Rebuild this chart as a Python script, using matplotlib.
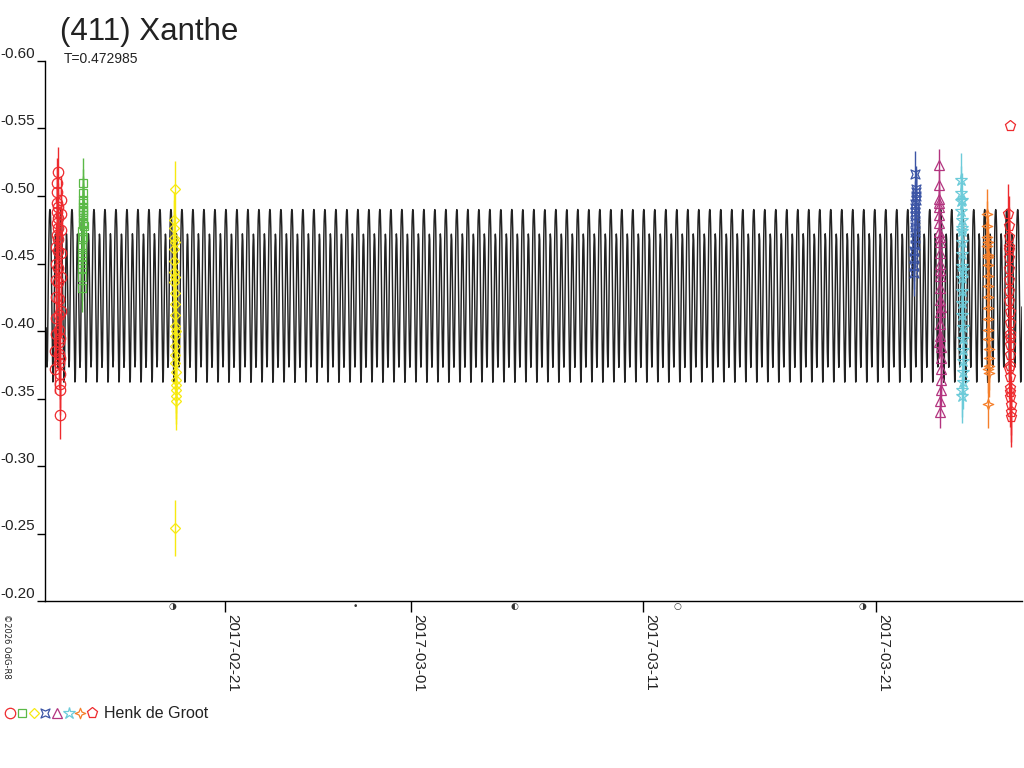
import matplotlib
matplotlib.use("Agg")
import matplotlib.pyplot as plt
import matplotlib.dates as mdates
from matplotlib.lines import Line2D
from matplotlib.path import Path
import numpy as np
import pandas as pd

plt.rcParams['font.family'] = ['Liberation Sans', 'DejaVu Sans']

# ---------------- data ----------------
TITLE = "(411) Xanthe"
SUBTITLE = "T=0.472985"
PERIOD = 0.472985
OBSERVER = "Henk de Groot"
COPYRIGHT = "\u00a92026 OdG-R8"

X_START = "2017-02-13 06:15"
X_END = "2017-03-27 06:45"
MODEL_EPOCH = "2017-02-13 00:00"

y_ticks = [-0.60, -0.55, -0.50, -0.45, -0.40, -0.35, -0.30, -0.25, -0.20]
x_tick_dates = ["2017-02-21", "2017-03-01", "2017-03-11", "2017-03-21"]

moon_dates = ["2017-02-18 18:00", "2017-02-26 15:00", "2017-03-05 11:00",
              "2017-03-12 11:30", "2017-03-20 10:30"]
moon_symbols = ["\u25d1", "\u2022", "\u25d0", "\u25cb", "\u25d1"]

# one rotation of the model lightcurve (phase, magnitude)
model_phase = [0.00, 0.04, 0.08, 0.12, 0.17, 0.22, 0.27, 0.31, 0.36, 0.41, 0.46, 0.50,
               0.54, 0.58, 0.63, 0.68, 0.73, 0.77, 0.82, 0.87, 0.92, 0.96, 1.00]
model_mag = [-0.490, -0.488, -0.478, -0.455, -0.420, -0.385, -0.362, -0.365, -0.395, -0.432,
             -0.462, -0.472, -0.468, -0.450, -0.418, -0.388, -0.373, -0.378, -0.410, -0.450,
             -0.478, -0.488, -0.490]

# session 1: red circles
s1_night = "2017-02-13"
s1_frac = [0.70, 0.71, 0.72, 0.72, 0.73, 0.74, 0.74, 0.75, 0.76, 0.76,
           0.77, 0.78, 0.78, 0.79, 0.80, 0.80, 0.81, 0.82, 0.82, 0.83,
           0.84, 0.84, 0.85, 0.86, 0.86, 0.87, 0.88, 0.88, 0.89, 0.90,
           0.90, 0.91, 0.92, 0.92, 0.93, 0.94, 0.94, 0.95, 0.96, 0.96]
s1_mag = [-0.372, -0.385, -0.398, -0.410, -0.425, -0.438, -0.450, -0.462, -0.471, -0.480,
          -0.488, -0.495, -0.503, -0.510, -0.518, -0.492, -0.484, -0.476, -0.468, -0.459,
          -0.447, -0.436, -0.424, -0.412, -0.401, -0.392, -0.383, -0.376, -0.368, -0.361,
          -0.356, -0.338, -0.380, -0.395, -0.415, -0.440, -0.458, -0.475, -0.487, -0.497]
s1_err = 0.018

# session 2: green squares
s2_night = "2017-02-14"
s2_frac = [0.84, 0.845, 0.85, 0.855, 0.86, 0.865, 0.87, 0.875, 0.88, 0.885, 0.89,
           0.895, 0.90, 0.905, 0.91, 0.915, 0.92, 0.86, 0.87, 0.88, 0.89, 0.90]
s2_mag = [-0.432, -0.440, -0.447, -0.455, -0.462, -0.468, -0.474, -0.479, -0.484, -0.488, -0.492,
          -0.497, -0.502, -0.510, -0.495, -0.486, -0.478, -0.450, -0.458, -0.470, -0.481, -0.490]
s2_err = 0.018

# session 3: yellow diamonds
s3_night = "2017-02-18"
s3_frac = [0.80, 0.805, 0.81, 0.815, 0.82, 0.825, 0.83, 0.835, 0.84, 0.845, 0.85, 0.855, 0.86,
           0.865, 0.87, 0.875, 0.88, 0.885, 0.89, 0.895, 0.90, 0.85, 0.86, 0.87, 0.88, 0.85]
s3_mag = [-0.482, -0.476, -0.469, -0.461, -0.452, -0.444, -0.436, -0.428, -0.420, -0.412, -0.404,
          -0.396, -0.389, -0.382, -0.376, -0.370, -0.364, -0.360, -0.356, -0.352, -0.348,
          -0.505, -0.466, -0.440, -0.400, -0.254]
s3_err = 0.021

# session 4: blue concave squares
s4_night = "2017-03-22"
s4_frac = [0.64, 0.645, 0.65, 0.655, 0.66, 0.665, 0.67, 0.675, 0.68, 0.685, 0.69,
           0.695, 0.70, 0.705, 0.71, 0.715, 0.72, 0.68]
s4_mag = [-0.443, -0.448, -0.454, -0.459, -0.464, -0.469, -0.473, -0.477, -0.481, -0.485, -0.488,
          -0.491, -0.494, -0.497, -0.500, -0.503, -0.505, -0.516]
s4_err = 0.017

# session 5: magenta triangles
s5_night = "2017-03-23"
s5_frac = [0.70, 0.705, 0.71, 0.715, 0.72, 0.725, 0.73, 0.735, 0.74, 0.745, 0.75, 0.755, 0.76, 0.765,
           0.77, 0.775, 0.78, 0.785, 0.79, 0.795, 0.80, 0.72, 0.74, 0.76, 0.78, 0.75, 0.77, 0.73]
s5_mag = [-0.523, -0.508, -0.498, -0.492, -0.486, -0.480, -0.473, -0.466, -0.458, -0.450, -0.441,
          -0.432, -0.423, -0.414, -0.405, -0.396, -0.388, -0.380, -0.372, -0.364, -0.356,
          -0.495, -0.470, -0.445, -0.418, -0.348, -0.340, -0.392]
s5_err = 0.012

# session 6: cyan stars
s6_night = "2017-03-24"
s6_frac = [0.66, 0.665, 0.67, 0.675, 0.68, 0.685, 0.69, 0.695, 0.70, 0.705, 0.71, 0.715,
           0.72, 0.725, 0.73, 0.735, 0.74, 0.745, 0.75, 0.69, 0.71, 0.73, 0.70, 0.72]
s6_mag = [-0.512, -0.502, -0.496, -0.489, -0.482, -0.474, -0.466, -0.457, -0.448, -0.439, -0.430,
          -0.421, -0.412, -0.403, -0.394, -0.386, -0.378, -0.370, -0.362, -0.497, -0.476, -0.445,
          -0.356, -0.352]
s6_err = 0.020

# session 7: orange four-point stars
s7_night = "2017-03-25"
s7_frac = [0.78, 0.785, 0.79, 0.795, 0.80, 0.805, 0.81, 0.815, 0.82, 0.825, 0.83,
           0.835, 0.84, 0.845, 0.85, 0.855, 0.86, 0.80, 0.82, 0.84, 0.83]
s7_mag = [-0.487, -0.478, -0.470, -0.463, -0.456, -0.449, -0.441, -0.433, -0.425, -0.417, -0.409,
          -0.401, -0.394, -0.387, -0.380, -0.374, -0.369, -0.466, -0.455, -0.372, -0.346]
s7_err = 0.018

# session 8: red pentagons
s8_night = "2017-03-26"
s8_frac = [0.70, 0.705, 0.71, 0.715, 0.72, 0.725, 0.73, 0.735, 0.74, 0.745, 0.75, 0.755, 0.76,
           0.765, 0.77, 0.775, 0.78, 0.785, 0.79, 0.795, 0.80, 0.76, 0.74, 0.72, 0.78, 0.75]
s8_mag = [-0.487, -0.478, -0.470, -0.462, -0.454, -0.446, -0.438, -0.430, -0.422, -0.414, -0.406,
          -0.398, -0.390, -0.382, -0.374, -0.366, -0.358, -0.351, -0.345, -0.340, -0.336,
          -0.552, -0.460, -0.372, -0.395, -0.355]
s8_err = [0.022] * 21 + [0.0, 0.022, 0.022, 0.022, 0.022]

# ---------------- styles ----------------
concave_square = Path([(-1, -1), (0, -0.55), (1, -1), (0.55, 0), (1, 1), (0, 0.55),
                       (-1, 1), (-0.55, 0), (-1, -1)], closed=True)
four_star = Path([(0, 1), (0.28, 0.28), (1, 0), (0.28, -0.28), (0, -1), (-0.28, -0.28),
                  (-1, 0), (-0.28, 0.28), (0, 1)], closed=True)

sessions = [
    (s1_night, s1_frac, s1_mag, s1_err, '#ee2a2e', 'o', 7.5),
    (s2_night, s2_frac, s2_mag, s2_err, '#5bb947', 's', 6.0),
    (s3_night, s3_frac, s3_mag, s3_err, '#f7ea10', 'D', 5.5),
    (s4_night, s4_frac, s4_mag, s4_err, '#3c55a5', concave_square, 6.5),
    (s5_night, s5_frac, s5_mag, s5_err, '#b3347f', '^', 7.5),
    (s6_night, s6_frac, s6_mag, s6_err, '#6ccbd9', '*', 9.0),
    (s7_night, s7_frac, s7_mag, s7_err, '#f57f2a', four_star, 7.5),
    (s8_night, s8_frac, s8_mag, s8_err, '#ee2a2e', 'p', 8.0),
]

# ---------------- figure ----------------
W, H = 1024, 768
fig = plt.figure(figsize=(W / 100, H / 100), dpi=100)
ax = fig.add_axes([45 / W, (H - 601) / H, (1022 - 45) / W, (601 - 61) / H])

x0 = mdates.date2num(pd.Timestamp(X_START))
x1 = mdates.date2num(pd.Timestamp(X_END))
ep = mdates.date2num(pd.Timestamp(MODEL_EPOCH))

# model curve
t = np.arange(x0 + 0.05, x1, 0.002)
ph = ((t - ep) / PERIOD) % 1.0
ax.plot(t, np.interp(ph, model_phase, model_mag), color='#222222', lw=1.05, zorder=2)

# observations
for night, frac, mag, err, col, mk, ms in sessions:
    tt = mdates.date2num(pd.Timestamp(night)) + np.asarray(frac)
    ax.errorbar(tt, mag, yerr=err, fmt='none', ecolor=col, elinewidth=1.0, capsize=0, zorder=3)
    ax.plot(tt, mag, ls='none', marker=mk, ms=ms, mfc='none', mec=col, mew=0.9, zorder=4)

ax.set_xlim(x0, x1)
ax.set_ylim(-0.20, -0.60)

for s in ['top', 'right']:
    ax.spines[s].set_visible(False)
for s in ['left', 'bottom']:
    ax.spines[s].set_color('black')
    ax.spines[s].set_linewidth(1.0)

ax.set_yticks(y_ticks)
ax.set_yticklabels([f"{v:.2f}" for v in y_ticks])
ax.tick_params(axis='y', direction='out', length=6, width=1, pad=1.5, labelsize=11,
               labelcolor='#222222')
for lbl in ax.get_yticklabels():
    lbl.set_verticalalignment('bottom')

ax.set_xticks([mdates.date2num(pd.Timestamp(d)) for d in x_tick_dates])
ax.set_xticklabels(x_tick_dates, rotation=-90, ha='left', va='top')
ax.tick_params(axis='x', direction='out', length=8, width=1, pad=1.0, labelsize=11,
               labelcolor='#222222')

# moon phase glyphs
for d, sym in zip(moon_dates, moon_symbols):
    ax.text(mdates.date2num(pd.Timestamp(d)), -0.011, sym, transform=ax.get_xaxis_transform(),
            ha='center', va='center', fontsize=6.5, color='#333333',
            family=['DejaVu Sans'], clip_on=False)

# texts
fig.text(60 / W, 1 - 40 / H, TITLE, fontsize=22.5, color='#222222', va='baseline', ha='left')
fig.text(64 / W, 1 - 63 / H, SUBTITLE, fontsize=10, color='#222222', va='baseline', ha='left')
fig.text(2 / W, 1 - 614 / H, COPYRIGHT, fontsize=6, color='#222222', rotation=-90,
         va='top', ha='left', family=['DejaVu Sans'])

# legend row
leg_x = [9.5, 21.5, 33.5, 45, 56.5, 68.5, 80, 92]
for (night, frac, mag, err, col, mk, ms), lx in zip(sessions, leg_x):
    fig.add_artist(Line2D([lx / W], [1 - 713 / H], transform=fig.transFigure, ls='none',
                          marker=mk, ms=ms, mfc='none', mec=col, mew=0.9))
fig.text(104 / W, 1 - 718 / H, OBSERVER, fontsize=11.5, color='#222222', va='baseline', ha='left')

fig.savefig("out.png", dpi=100)
